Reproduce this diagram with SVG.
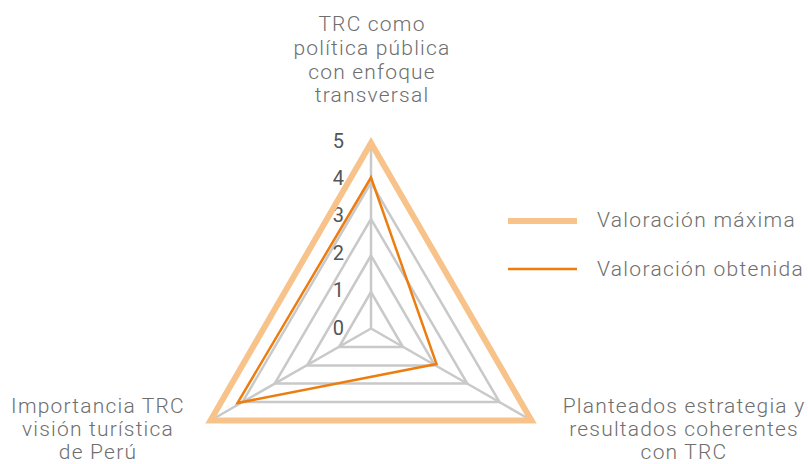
<svg xmlns="http://www.w3.org/2000/svg" width="808" height="464" viewBox="0 0 808 464">
<style>
.lbl{font-family:Roboto,"Liberation Sans",sans-serif;font-weight:300;font-size:21px;letter-spacing:1.2px;fill:#6e6e6e;text-anchor:middle}
.num{font-family:Roboto,"Liberation Sans",sans-serif;font-weight:400;font-size:20px;fill:#555;text-anchor:end}
.leg{font-family:Roboto,"Liberation Sans",sans-serif;font-weight:300;font-size:21px;letter-spacing:1.3px;fill:#6e6e6e}
.grid{fill:none;stroke:#c9c9c9;stroke-width:2.5;stroke-linejoin:miter}
.max{fill:none;stroke:#f8c38b;stroke-width:6;stroke-linejoin:miter}
.obt{fill:none;stroke:#ed7d0f;stroke-width:2.5;stroke-linejoin:miter}
</style>
<rect width="808" height="464" fill="#ffffff"/>
<g id="grid">
<polygon class="grid" points="371,292 339,347 403,347"/>
<polygon class="grid" points="371,255.5 307,365.5 435,365.5"/>
<polygon class="grid" points="371,219 274.7,383.5 467.3,383.5"/>
<polygon class="grid" points="371,182.5 242.5,402 499.5,402"/>
<line class="grid" x1="371" y1="328.5" x2="371" y2="146"/>
<line class="grid" x1="371" y1="328.5" x2="210.5" y2="420.5"/>
<line class="grid" x1="371" y1="328.5" x2="531.5" y2="420.5"/>
</g>
<g id="scale">
<text class="num" x="344" y="148">5</text>
<text class="num" x="344" y="185">4</text>
<text class="num" x="344" y="222">3</text>
<text class="num" x="344" y="260">2</text>
<text class="num" x="344" y="297">1</text>
<text class="num" x="344" y="335">0</text>
</g>
<g id="series">
<polygon id="valoracion-maxima" class="max" points="371,143 210.5,420.5 531.5,420.5"/>
<polygon id="valoracion-obtenida" class="obt" points="371,177.5 237.5,403 436.5,364"/>
</g>
<g id="axis-top">
<text class="lbl" x="372" y="31">TRC como</text>
<text class="lbl" x="372" y="55">política pública</text>
<text class="lbl" x="372" y="79">con enfoque</text>
<text class="lbl" x="372" y="102">transversal</text>
</g>
<g id="axis-left">
<text class="lbl" x="98" y="413">Importancia TRC</text>
<text class="lbl" x="98" y="436">visión turística</text>
<text class="lbl" x="98" y="459">de Perú</text>
</g>
<g id="axis-right">
<text class="lbl" x="684" y="413">Planteados estrategia y</text>
<text class="lbl" x="684" y="436">resultados coherentes</text>
<text class="lbl" x="684" y="459">con TRC</text>
</g>
<g id="legend">
<line class="max" x1="508" y1="221" x2="577" y2="221"/>
<text class="leg" x="597" y="227">Valoración máxima</text>
<line class="obt" x1="508" y1="269" x2="577" y2="269"/>
<text class="leg" x="597" y="276">Valoración obtenida</text>
</g>
</svg>
